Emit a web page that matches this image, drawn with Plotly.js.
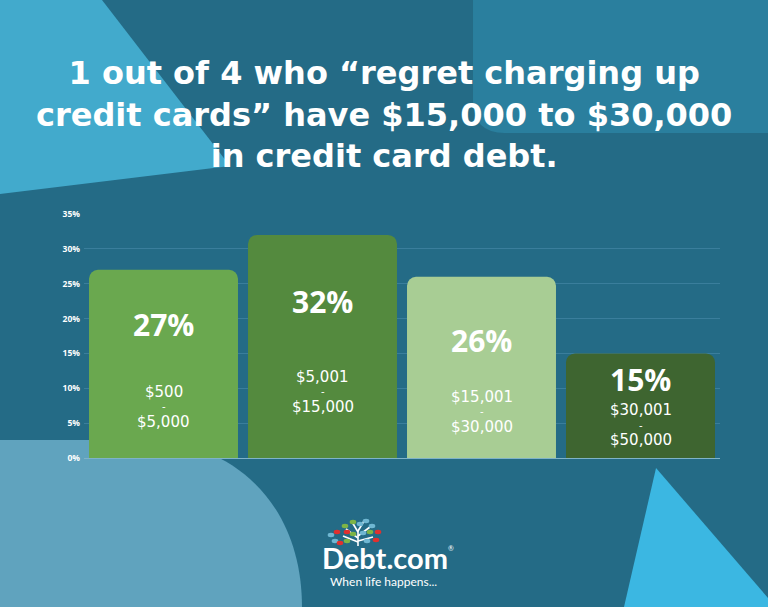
<!DOCTYPE html>
<html>
<head>
<meta charset="utf-8">
<script src="https://cdn.plot.ly/plotly-3.0.1.min.js"></script>
<style>html,body{margin:0;padding:0;background:#246B86;}#chart{width:768px;height:607px;}</style>
</head>
<body>
<div id="chart"></div>
<script>
// ---- data ----
const categories = ['$500 - $5,000', '$5,001 - $15,000', '$15,001 - $30,000', '$30,001 - $50,000'];
const rangeLow = ['$500', '$5,001', '$15,001', '$30,001'];
const rangeHigh = ['$5,000', '$15,000', '$30,000', '$50,000'];
const shares = [27, 32, 26, 15];
const yTicks = [0, 5, 10, 15, 20, 25, 30, 35];
const yTickText = ['0%', '5%', '10%', '15%', '20%', '25%', '30%', '35%'];

// ---- style ----
const barColors = ['#6AA84F', '#548A3E', '#A8CD94', '#3E6530'];
const pctOffsetPx = [55, 67, 64, 26];     // label distance below bar top
const rangeOffsetPx = [137, 157, 135, 72];
const W = 768, H = 607;
const px = (x, y) => (x / W).toFixed(4) + ',' + (1 - y / H).toFixed(4);

const shapes = [
  {type: 'path', xref: 'paper', yref: 'paper', layer: 'below', line: {width: 0}, fillcolor: '#42AACC',
   path: 'M' + px(0, 0) + ' L' + px(102, 0) + ' L' + px(230, 166) + ' L' + px(0, 194) + ' Z'},
  {type: 'path', xref: 'paper', yref: 'paper', layer: 'below', line: {width: 0}, fillcolor: '#2A7F9E',
   path: 'M' + px(473, 0) + ' L' + px(768, 0) + ' L' + px(768, 133) + ' L' + px(505, 133) +
         ' Q' + px(473, 133) + ' ' + px(473, 101) + ' Z'},
  {type: 'path', xref: 'paper', yref: 'paper', layer: 'below', line: {width: 0}, fillcolor: '#60A3BE',
   path: 'M' + px(0, 440) + ' L' + px(140, 440) + ' C' + px(235, 440) + ' ' + px(302, 505) + ' ' + px(302, 607) +
         ' L' + px(0, 607) + ' Z'},
  {type: 'path', xref: 'paper', yref: 'paper', layer: 'above', line: {width: 0}, fillcolor: '#3BB7E2',
   path: 'M' + px(656, 468) + ' L' + px(768, 598) + ' L' + px(768, 607) + ' L' + px(624, 607) + ' Z'}
];

// tree logo (decorative)
const trunk = [[358,546,358,530],[358,538,346,529],[358,536,370,527],[358,542,343,536],[358,541,373,537],[358,532,352,522],[358,531,364,521]];
trunk.forEach(t => shapes.push({type: 'line', xref: 'paper', yref: 'paper', layer: 'above',
  x0: t[0] / W, y0: 1 - t[1] / H, x1: t[2] / W, y1: 1 - t[3] / H, line: {color: '#FFFFFF', width: 1.6}}));
const leaves = [
  [353,522,'#7DB546'],[360,524,'#6FB7D2'],[366,521,'#6FB7D2'],[345,526,'#7DB546'],[372,526,'#6FB7D2'],
  [337,532,'#E0312F'],[347,532,'#E0312F'],[353,534,'#7DB546'],[363,533,'#6FB7D2'],[370,532,'#7DB546'],
  [378,532,'#E0312F'],[335,541,'#6FB7D2'],[340,543,'#E0312F'],[347,541,'#7DB546'],[367,541,'#6FB7D2'],
  [376,540,'#E0312F'],[331,535,'#6FB7D2']
];
leaves.forEach(l => shapes.push({type: 'circle', xref: 'paper', yref: 'paper', layer: 'above',
  x0: (l[0] - 3.3) / W, x1: (l[0] + 3.3) / W, y0: 1 - (l[1] + 2.2) / H, y1: 1 - (l[1] - 2.2) / H,
  fillcolor: l[2], line: {width: 0}}));

const annotations = [];
categories.forEach((c, i) => {
  annotations.push({x: c, y: shares[i], xref: 'x', yref: 'y', text: '<b>' + shares[i] + '%</b>', showarrow: false,
    xanchor: 'center', yanchor: 'middle', yshift: -pctOffsetPx[i], font: {family: 'Open Sans', size: 30, color: '#FFFFFF'}});
  annotations.push({x: c, y: shares[i], xref: 'x', yref: 'y', text: rangeLow[i], showarrow: false, borderpad: 0,
    xanchor: 'center', yanchor: 'middle', yshift: -rangeOffsetPx[i] + 15, font: {family: 'DejaVu Sans', size: 15, color: '#FFFFFF'}});
  annotations.push({x: c, y: shares[i], xref: 'x', yref: 'y', text: '-', showarrow: false, borderpad: 0,
    xanchor: 'center', yanchor: 'middle', yshift: -rangeOffsetPx[i], font: {family: 'DejaVu Sans', size: 10, color: '#FFFFFF'}});
  annotations.push({x: c, y: shares[i], xref: 'x', yref: 'y', text: rangeHigh[i], showarrow: false, borderpad: 0,
    xanchor: 'center', yanchor: 'middle', yshift: -rangeOffsetPx[i] - 15, font: {family: 'DejaVu Sans', size: 15, color: '#FFFFFF'}});
});
annotations.push({xref: 'paper', yref: 'paper', x: 0.5, y: 1 - 115 / H, xanchor: 'center', yanchor: 'middle',
  text: '<b>1 out of 4 who “regret charging up<br>credit cards” have $15,000 to $30,000<br>in credit card debt.</b>',
  showarrow: false, font: {family: 'DejaVu Sans', size: 32, color: '#FFFFFF'}});
annotations.push({xref: 'paper', yref: 'paper', x: 385 / W, y: 1 - 557 / H, xanchor: 'center', yanchor: 'middle', borderpad: 0,
  text: '<b>Debt.com</b>', showarrow: false, font: {family: 'Lato', size: 29, color: '#FFFFFF'}});
annotations.push({xref: 'paper', yref: 'paper', x: 451 / W, y: 1 - 548 / H, xanchor: 'center', yanchor: 'middle',
  text: '®', showarrow: false, font: {family: 'Lato', size: 7, color: '#FFFFFF'}});
annotations.push({xref: 'paper', yref: 'paper', x: 383 / W, y: 1 - 581 / H, xanchor: 'center', yanchor: 'middle', borderpad: 0,
  text: 'When life happens...', showarrow: false, font: {family: 'Lato', size: 12, color: '#FFFFFF'}});

const trace = {
  type: 'bar', x: categories, y: shares,
  marker: {color: barColors, cornerradius: 9, line: {width: 0}},
  width: 0.937, hoverinfo: 'skip'
};

const layout = {
  width: W, height: H,
  margin: {l: 0, r: 0, t: 0, b: 0},
  paper_bgcolor: '#246B86', plot_bgcolor: 'rgba(0,0,0,0)',
  showlegend: false,
  xaxis: {domain: [84 / W, 720 / W], range: [-0.5, 3.5], showticklabels: false, showgrid: false,
    zeroline: false, fixedrange: true},
  yaxis: {domain: [1 - 458 / H, 1 - 214 / H], range: [0, 35], tickmode: 'array', tickvals: yTicks, ticktext: yTickText,
    showgrid: true, gridcolor: '#3A7E9C', gridwidth: 1, zeroline: true, zerolinecolor: '#7FB3C8',
    ticks: '', ticklabelstandoff: 3,
    tickfont: {family: 'Open Sans', size: 8.5, color: '#FFFFFF', weight: 'bold'}, fixedrange: true},
  shapes: shapes,
  annotations: annotations
};

Plotly.newPlot('chart', [trace], layout, {displayModeBar: false, staticPlot: true});
</script>
</body>
</html>
